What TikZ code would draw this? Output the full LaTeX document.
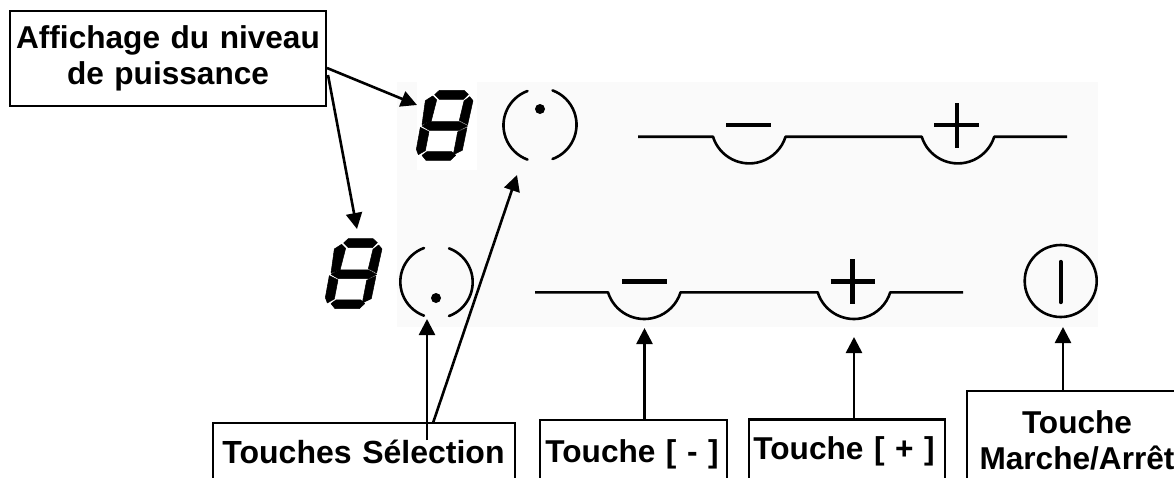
\documentclass[tikz,border=0pt]{standalone}
\usepackage{fontspec}
\setmainfont{Liberation Sans}
\usetikzlibrary{arrows.meta}
\definecolor{panelgrey}{HTML}{FAFAFA}
\tikzset{
  labelbox/.style={draw=black,fill=white,line width=2.2pt,inner sep=0pt,outer sep=0pt,align=center,anchor=north west,
    font=\fontsize{31.6}{36}\selectfont\bfseries},
  conn/.style={line width=2.6pt,-{Triangle[length=16pt,width=16pt]}},
  keyline/.style={line width=2.6pt,line join=round},
  keymark/.style={line width=4.8pt},
  ring/.style={line width=2.6pt,line cap=round},
  pics/sevenseg/.style={code={
    \filldraw[black,line width=0.5pt,x=0.3333pt,y=-0.3333pt,line join=round]
      (134,74)--(148,61)--(222,61)--(235,73)--(220,88)--(148,88)--cycle
      (128,78)--(140,90)--(124,152)--(96,164)--(106,92)--cycle
      (239,80)--(249,92)--(233,164)--(208,151)--(222,93)--cycle
      (96,168)--(120,155)--(208,155)--(233,168)--(207,181)--(118,181)--cycle
      (91,172)--(117,185)--(106,242)--(85,254)--(79,238)--cycle
      (231,173)--(217,241)--(190,254)--(203,186)--cycle
      (96,256)--(111,245)--(185,245)--(197,256)--(181,271)--(108,271)--cycle;
  }}
}
\begin{document}
\begin{tikzpicture}[x=1pt,y=-1pt]
\useasboundingbox (0,0) rectangle (1174,477);
\clip (0,0) rectangle (1174,477);
\fill[white] (0,0) rectangle (1174,477);
% panel
\fill[panelgrey] (397,82) rectangle (1098,327);
\fill[white] (417,82) rectangle (477,170);
% digits
\pic at (390,70) {sevenseg};
\pic at (299,218.3) {sevenseg};
% upper selector
\draw[ring] (527.5,91) arc[start angle=110,end angle=250,radius=36.5pt];
\draw[ring] (552.5,159) arc[start angle=-70,end angle=70,radius=36.5pt];
\fill (540,109) circle[radius=5pt];
% lower selector
\draw[ring] (424,248) arc[start angle=110,end angle=250,radius=36pt];
\draw[ring] (449,316) arc[start angle=-70,end angle=70,radius=36pt];
\fill (436,298) circle[radius=5pt];
% upper keys
\draw[keyline] (638,136.7) -- (713,136.7) arc[start angle=197.3,end angle=342.7,radius=38pt]
  -- (921.7,136.7) arc[start angle=197.3,end angle=342.7,radius=38pt] -- (1067,136.7);
\draw[keymark] (726,125) -- (771,125);
\draw[keymark] (934,125) -- (979,125) (957,103) -- (957,148);
% lower keys
\draw[keyline] (535,292.3) -- (608,292.3) arc[start angle=197.3,end angle=342.7,radius=38pt]
  -- (817.7,292.3) arc[start angle=197.3,end angle=342.7,radius=38pt] -- (963,292.3);
\draw[keymark] (622,281.7) -- (667,281.7);
\draw[keymark] (830.7,281.7) -- (875,281.7) (852.7,259) -- (852.7,304);
% on/off
\node[draw,circle,line width=2.6pt,minimum size=72pt,inner sep=0pt,outer sep=0pt] (onoff) at (1060.7,281) {};
\draw[line width=4.4pt,line cap=round] (1060.7,262) -- (1060.7,302);
% label boxes
\node[labelbox,text width=316pt,minimum height=95pt,line width=2.6pt] (affich) at (10,11)
  {Affichage du niveau\\de puissance};
\node[labelbox,text width=302pt,text height=40pt,text depth=40pt,line width=1.8pt,
  font=\fontsize{32}{36}\selectfont\bfseries] (select) at (213,423) {\hspace*{-1pt}Touches Sélection};
\node[labelbox,text width=187pt,text height=42pt,text depth=40pt,line width=1.8pt] (moins) at (540,420) {\hspace*{-3pt}Touche [ - ]};
\node[labelbox,text width=196pt,text height=40pt,text depth=40pt,line width=2.4pt] (plus) at (749,419.5) {\hspace*{-6pt}Touche [ + ]};
\node[labelbox,text width=220pt,minimum height=98pt,line width=2.2pt] (marche) at (967,391)
  {Touche\\Marche/Arrêt};
% connector ends
\coordinate (aS1) at (327,68);
\coordinate (aT1) at (417,105);
\coordinate (aS2) at (328,75);
\coordinate (aT2) at (357,229);
\coordinate (sS1) at (427,440);
\coordinate (sT1) at (427,319);
\coordinate (sS2) at (433,423);
\coordinate (sT2) at (517,175);
\coordinate (mT) at (644.5,328);
\coordinate (pT) at (854,337);
\coordinate (oT) at (1063,327);
\draw[conn] (aS1) -- (aT1);
\draw[conn] (aS2) -- (aT2);
\draw[conn] (sS1) -- (sT1);
\draw[conn] (sS2) -- (sT2);
\draw[conn] (moins.north -| mT) -- (mT);
\draw[conn] (plus.north -| pT) -- (pT);
\draw[conn] (marche.north -| oT) -- (oT);
\end{tikzpicture}
\end{document}
